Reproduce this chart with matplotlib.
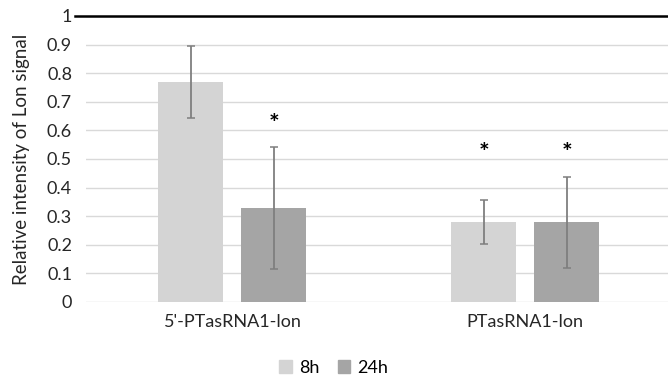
import numpy as np
import matplotlib
matplotlib.use("Agg")
import matplotlib.pyplot as plt
from matplotlib.patches import Patch

plt.rcParams['font.family'] = ['Lato', 'DejaVu Sans']

categories = ["5'-PTasRNA1-lon", "PTasRNA1-lon"]
series = ["8h", "24h"]
vals_8h = [0.77, 0.28]
err_8h = [0.125, 0.078]
vals_24h = [0.33, 0.278]
err_24h = [0.213, 0.158]
star_8h = [None, 0.52]
star_24h = [0.62, 0.52]

col_8h = '#d4d4d4'
col_24h = '#a5a5a5'

fig = plt.figure(figsize=(6.68, 3.8), dpi=100)
ax = fig.add_axes([0.1287, 0.2053, 0.877, 0.7526])

x = np.arange(len(categories))
w = 0.222
off = 0.1416
ekw = dict(ecolor='#7f7f7f', elinewidth=1.3, capsize=3, capthick=1.1)
ax.bar(x - off, vals_8h, w, color=col_8h, yerr=err_8h, error_kw=ekw, zorder=3)
ax.bar(x + off, vals_24h, w, color=col_24h, yerr=err_24h, error_kw=ekw, zorder=3)

for i in range(len(categories)):
    if star_8h[i] is not None:
        ax.text(x[i] - off, star_8h[i], '*', ha='center', va='center',
                fontsize=18, fontweight='bold', zorder=4)
    if star_24h[i] is not None:
        ax.text(x[i] + off, star_24h[i], '*', ha='center', va='center',
                fontsize=18, fontweight='bold', zorder=4)

# reference line at 1, starts a bit left of the plot area
ax.axhline(1.0, xmin=-0.019, xmax=1.0, color='black', lw=1.8, zorder=4, clip_on=False)

ax.set_xlim(-0.5, 1.5)
ax.set_ylim(0, 1.0)
ax.set_yticks(np.arange(0, 1.01, 0.1))
ax.set_yticklabels(['0', '0.1', '0.2', '0.3', '0.4', '0.5', '0.6', '0.7', '0.8', '0.9', '1'])
ax.set_xticks(x)
ax.set_xticklabels(categories)
ax.yaxis.grid(True, color='#d9d9d9', lw=1.0, zorder=0)
ax.tick_params(axis='both', length=0, labelsize=13, colors='#262626')
ax.tick_params(axis='y', pad=10)
ax.tick_params(axis='x', pad=9)
for s in ax.spines.values():
    s.set_visible(False)

ax.set_ylabel('Relative intensity of Lon signal', fontsize=13.5, color='#262626', labelpad=12)

handles = [Patch(color=col_8h), Patch(color=col_24h)]
fig.legend(handles, series, loc='center', bbox_to_anchor=(0.5, 0.032), ncol=2,
           frameon=False, fontsize=13, handlelength=0.7, handleheight=0.7,
           handletextpad=0.4, columnspacing=1.0)

fig.savefig('out.png', dpi=100)
